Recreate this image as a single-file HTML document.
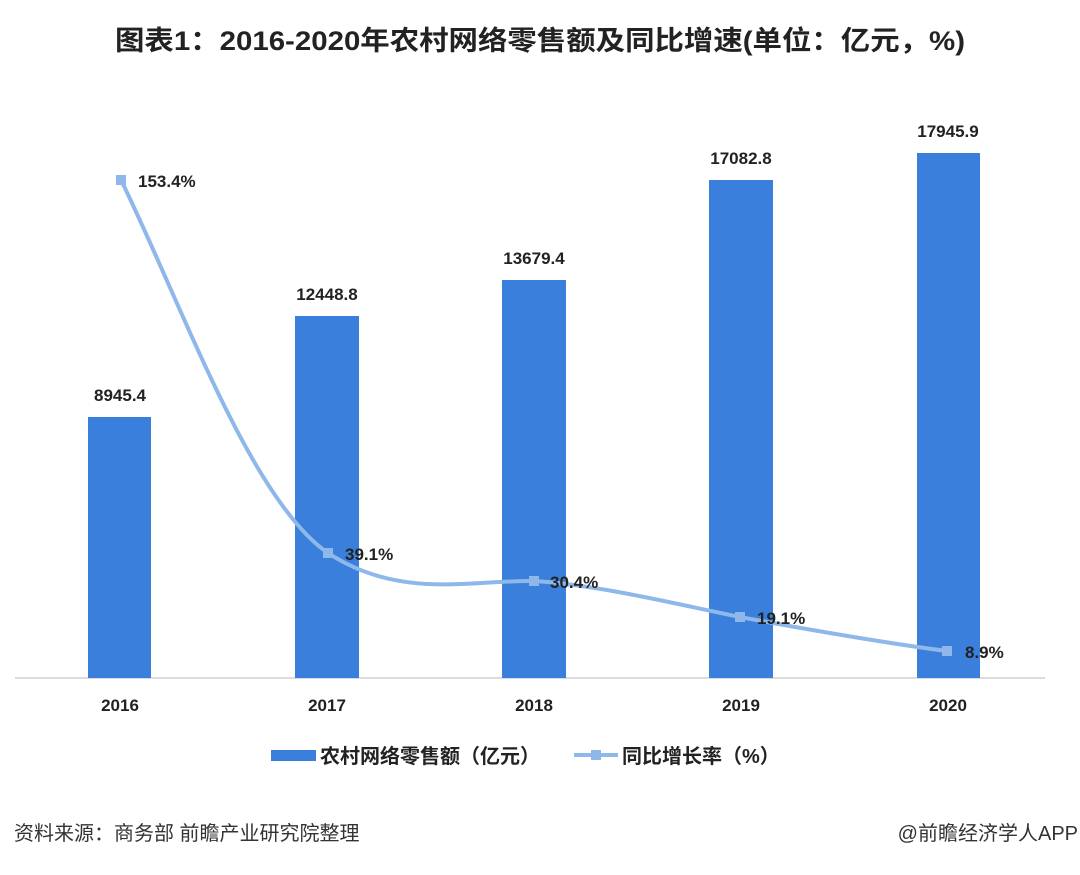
<!DOCTYPE html>
<html><head><meta charset="utf-8"><style>
html,body{margin:0;padding:0;background:#fff;}
svg text{font-family:"Liberation Sans","Noto Sans CJK SC",sans-serif;}
</style></head><body>
<svg width="1080" height="870" viewBox="0 0 1080 870" xmlns="http://www.w3.org/2000/svg">
<rect width="1080" height="870" fill="#fff"/>
<text x="540" y="50" text-anchor="middle" font-size="27" font-weight="bold" fill="#222" textLength="850" lengthAdjust="spacingAndGlyphs">图表1：2016-2020年农村网络零售额及同比增速(单位：亿元，%)</text>
<line x1="15" y1="678" x2="1045" y2="678" stroke="#d0d0d0" stroke-width="1.5"/>
<g fill="#3a7fdb">
<rect x="88" y="417" width="63" height="261"/>
<rect x="295" y="316" width="64" height="362"/>
<rect x="502" y="280" width="64" height="398"/>
<rect x="709" y="180" width="64" height="498"/>
<rect x="917" y="153" width="63" height="525"/>
</g>
<g font-size="17" font-weight="bold" fill="#222" text-anchor="middle">
<text x="120" y="401">8945.4</text>
<text x="327" y="300">12448.8</text>
<text x="534" y="264">13679.4</text>
<text x="741" y="164">17082.8</text>
<text x="948" y="137">17945.9</text>
</g>
<path d="M121,180 C180,300 250,500 328,553 C400,600 470,580 534,581 C600,585 680,605 740,617 C820,632 900,645 947,651" fill="none" stroke="#8fb8ea" stroke-width="4"/>
<g fill="#8fb8ea">
<rect x="116" y="175" width="10" height="10"/>
<rect x="323" y="548" width="10" height="10"/>
<rect x="529" y="576" width="10" height="10"/>
<rect x="735" y="612" width="10" height="10"/>
<rect x="942" y="646" width="10" height="10"/>
</g>
<g font-size="17" font-weight="bold" fill="#222">
<text x="138" y="187">153.4%</text>
<text x="345" y="560">39.1%</text>
<text x="550" y="588">30.4%</text>
<text x="757" y="624">19.1%</text>
<text x="965" y="658">8.9%</text>
</g>
<g font-size="17" font-weight="bold" fill="#222" text-anchor="middle">
<text x="120" y="711">2016</text>
<text x="327" y="711">2017</text>
<text x="534" y="711">2018</text>
<text x="741" y="711">2019</text>
<text x="948" y="711">2020</text>
</g>
<rect x="271" y="750" width="45" height="11" fill="#3a7fdb"/>
<text x="320" y="763" font-size="20" font-weight="bold" fill="#222">农村网络零售额（亿元）</text>
<line x1="574" y1="755" x2="618" y2="755" stroke="#8fb8ea" stroke-width="4"/>
<rect x="591" y="750" width="10" height="10" fill="#8fb8ea"/>
<text x="622" y="763" font-size="20" font-weight="bold" fill="#222">同比增长率（%）</text>
<text x="14" y="840" font-size="20" fill="#333">资料来源：商务部 前瞻产业研究院整理</text>
<text x="1078" y="840" font-size="20" fill="#333" text-anchor="end">@前瞻经济学人APP</text>
</svg>
</body></html>
